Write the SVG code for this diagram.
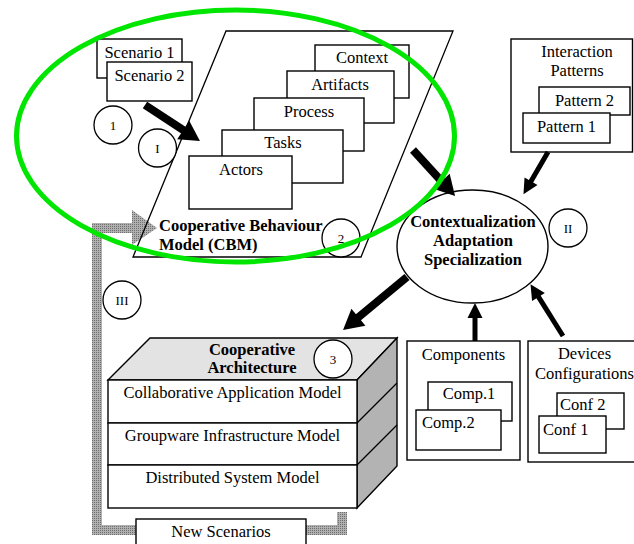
<svg xmlns="http://www.w3.org/2000/svg" width="634" height="544" viewBox="0 0 634 544">
  <style>
    .box { fill: #fff; stroke: #000; stroke-width: 1.4; }
    .ln { fill: none; stroke: #000; stroke-width: 1.3; }
    .t { font-family: "Liberation Serif", "Times New Roman", serif; font-size: 16.5px; fill: #000; }
    .c { text-anchor: middle; }
    .bd { font-weight: bold; }
    .num { font-family: "Liberation Serif", "Times New Roman", serif; font-size: 13px; fill: #000; text-anchor: middle; }
    .ring { fill: #fff; stroke: #000; stroke-width: 1.3; }
    .thick { stroke: #000; stroke-width: 8; fill: none; }
    .mid { stroke: #000; stroke-width: 5; fill: none; }
  </style>
  <defs>
    <pattern id="stipple" width="2" height="2" patternUnits="userSpaceOnUse">
      <rect width="2" height="2" fill="#b0b0b0"/>
      <rect width="1" height="1" fill="#6e6e6e"/>
    </pattern>
    <marker id="headBig" markerUnits="userSpaceOnUse" markerWidth="30" markerHeight="30" refX="2" refY="0" orient="auto" overflow="visible">
      <path d="M0,-11 L20,0 L0,11 Z" fill="#000"/>
    </marker>
    <marker id="headMid" markerUnits="userSpaceOnUse" markerWidth="20" markerHeight="20" refX="2" refY="0" orient="auto" overflow="visible">
      <path d="M0,-7.5 L15,0 L0,7.5 Z" fill="#000"/>
    </marker>
  </defs>

  <rect width="634" height="544" fill="#fff"/>

  <!-- feedback loop: new scenarios back into the behaviour model -->
  <g id="feedback">
    <path d="M342,512 V530 H97 V228 H133" fill="none" stroke="url(#stipple)" stroke-width="10"/>
    <polygon points="132,210 157,228 132,245" fill="url(#stipple)"/>
  </g>

  <!-- cooperative behaviour model -->
  <g id="cbm">
    <polygon class="ln" points="226,31 453,31 361,257 133,257"/>
    <rect class="box" x="315" y="45" width="94" height="53"/>
    <text class="t c" x="362" y="63">Context</text>
    <rect class="box" x="287" y="71" width="107" height="52"/>
    <text class="t c" x="340" y="90">Artifacts</text>
    <rect class="box" x="254" y="98" width="110" height="53"/>
    <text class="t c" x="309" y="117">Process</text>
    <rect class="box" x="222" y="130" width="121" height="53"/>
    <text class="t c" x="283" y="148">Tasks</text>
    <rect class="box" x="189" y="156" width="103" height="53"/>
    <text class="t c" x="241" y="175">Actors</text>
    <text class="t bd" x="159" y="231">Cooperative Behaviour</text>
    <text class="t bd" x="159" y="250">Model (CBM)</text>
  </g>

  <g id="scenarios">
    <rect class="box" x="97" y="39" width="85" height="39"/>
    <text class="t c" x="139.5" y="58">Scenario 1</text>
    <rect class="box" x="107" y="62" width="85" height="39"/>
    <text class="t c" x="149.5" y="81">Scenario 2</text>
  </g>

  <g id="interaction-patterns">
    <rect class="box" x="511" y="39" width="121.5" height="113"/>
    <text class="t c" x="577" y="57">Interaction</text>
    <text class="t c" x="577" y="76">Patterns</text>
    <rect class="box" x="539" y="87" width="91" height="28"/>
    <text class="t c" x="584.5" y="106">Pattern 2</text>
    <rect class="box" x="523" y="113" width="87" height="30"/>
    <text class="t c" x="566.5" y="132">Pattern 1</text>
  </g>

  <g id="contextualization">
    <ellipse class="box" cx="472.5" cy="246.5" rx="75.5" ry="56.5"/>
    <text class="t c bd" x="473" y="227">Contextualization</text>
    <text class="t c bd" x="473" y="246">Adaptation</text>
    <text class="t c bd" x="473" y="265">Specialization</text>
  </g>

  <g id="cooperative-architecture">
    <polygon points="108,380 150,338 397,338 357,380" fill="#e3e3e3" stroke="#000" stroke-width="1.4"/>
    <polygon points="357,380 397,338 397,466 357,508" fill="#b3b3b3" stroke="#000" stroke-width="1.4"/>
    <line class="ln" x1="357" y1="423" x2="397" y2="383"/>
    <line class="ln" x1="357" y1="465" x2="397" y2="425"/>
    <rect class="box" x="108" y="380" width="249" height="43"/>
    <rect class="box" x="108" y="423" width="249" height="42"/>
    <rect class="box" x="108" y="465" width="249" height="43"/>
    <text class="t c bd" x="252" y="355">Cooperative</text>
    <text class="t c bd" x="252" y="373">Architecture</text>
    <text class="t c" x="232.5" y="398">Collaborative Application Model</text>
    <text class="t c" x="232.5" y="441">Groupware Infrastructure Model</text>
    <text class="t c" x="232.5" y="483">Distributed System Model</text>
  </g>

  <g id="components">
    <rect class="box" x="407" y="341" width="113" height="119"/>
    <text class="t c" x="463.5" y="360">Components</text>
    <rect class="box" x="428" y="382" width="84" height="39"/>
    <text class="t c" x="469" y="399">Comp.1</text>
    <rect class="box" x="416" y="410" width="85" height="40"/>
    <text class="t" x="422" y="428">Comp.2</text>
  </g>

  <g id="devices">
    <rect class="box" x="528" y="341" width="115" height="121"/>
    <text class="t c" x="584.5" y="359">Devices</text>
    <text class="t c" x="584.5" y="379">Configurations</text>
    <rect class="box" x="557" y="393" width="67" height="36"/>
    <text class="t" x="560" y="410">Conf 2</text>
    <rect class="box" x="539" y="416" width="67" height="37"/>
    <text class="t" x="543" y="435">Conf 1</text>
  </g>

  <g id="new-scenarios">
    <rect class="box" x="136" y="519" width="170" height="35"/>
    <text class="t c" x="221" y="537">New Scenarios</text>
  </g>

  <!-- connectors -->
  <g id="connectors">
    <line class="thick" x1="145" y1="105" x2="184.9" y2="131.1" marker-end="url(#headBig)"/>
    <line class="thick" x1="413" y1="150" x2="442.9" y2="182.7" marker-end="url(#headBig)"/>
    <line class="thick" x1="407" y1="277" x2="356.9" y2="318.5" marker-end="url(#headBig)"/>
    <line class="mid" x1="548" y1="152" x2="530" y2="183" marker-end="url(#headMid)"/>
    <line class="mid" x1="475" y1="341" x2="475" y2="316" marker-end="url(#headMid)"/>
    <line class="mid" x1="563" y1="336" x2="537.4" y2="295.2" marker-end="url(#headMid)"/>
  </g>

  <!-- step markers -->
  <g id="steps">
    <circle class="ring" cx="113" cy="125" r="19"/>
    <text class="num" x="113" y="129.5">1</text>
    <circle class="ring" cx="157.5" cy="148" r="19"/>
    <text class="num" x="157.5" y="152.5">I</text>
    <circle class="ring" cx="341" cy="238" r="19"/>
    <text class="num" x="341" y="242.5">2</text>
    <circle class="ring" cx="568" cy="228" r="19"/>
    <text class="num" x="568" y="232.5">II</text>
    <circle class="ring" cx="122" cy="300" r="19"/>
    <text class="num" x="122" y="304.5">III</text>
    <circle class="ring" cx="333" cy="359" r="19"/>
    <text class="num" x="333" y="363.5">3</text>
  </g>

  <!-- highlight around the behaviour model -->
  <g id="highlight">
    <ellipse cx="235.5" cy="136" rx="219" ry="126" fill="none" stroke="#00e600" stroke-width="5"/>
  </g>
</svg>
